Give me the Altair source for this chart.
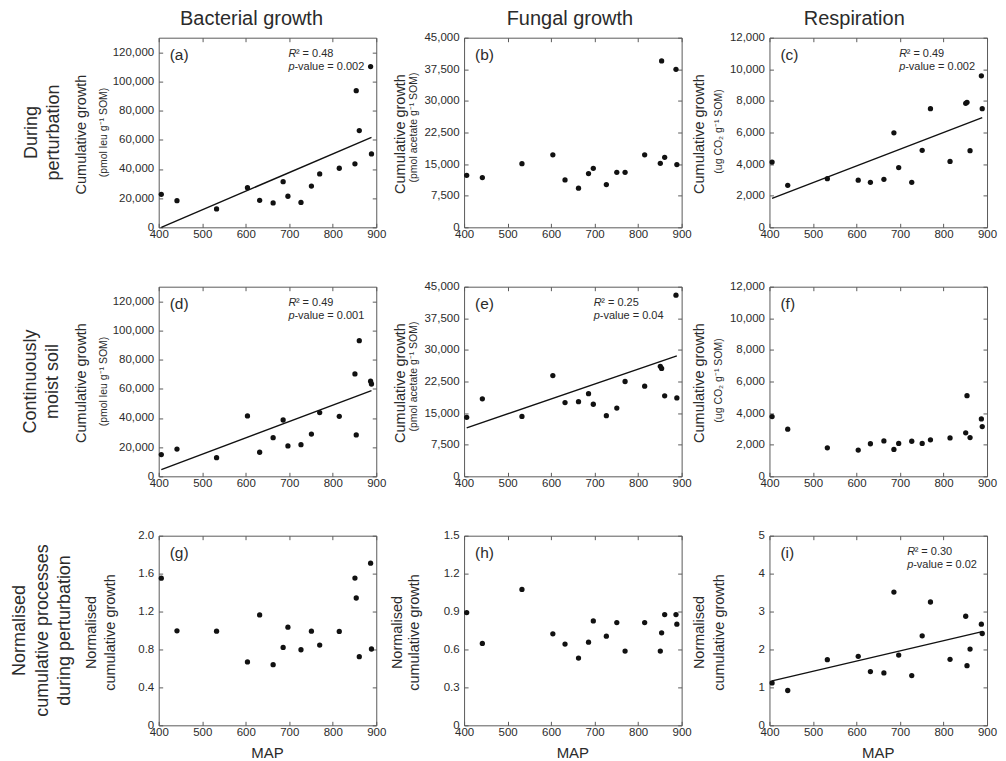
import altair as alt
import pandas as pd

# ---------------- data ----------------
MAP = [406, 442, 533, 604, 632, 663, 686, 697, 727, 751, 770, 815, 851, 854, 861, 887, 889]

bact_pert = [22600, 18300, 12600, 27200, 18500, 16700, 31300, 21300, 17100, 28300, 36600, 40500, 43500, 93700, 66300, 110200, 50300]
fung_pert = [12350, 11800, 15100, 17200, 11250, 9300, 12750, 14000, 10150, 13060, 13060, 17200, 15200, 39500, 16600, 37500, 14900]
resp_pert = [4130, 2660, 3080, 2980, 2850, 3040, 5980, 3780, 2850, 4870, 7510, 4170, 7850, 7910, 4850, 9590, 7510]
bact_moist = [14900, 18700, 12800, 41400, 16500, 26500, 38600, 20800, 21700, 29000, 43700, 41100, 70200, 28400, 93000, 65200, 63300]
fung_moist = [14000, 18400, 14200, 23900, 17500, 17700, 19600, 17100, 14400, 16200, 22500, 21400, 26100, 25600, 19100, 43000, 18600]
resp_moist = [3780, 2980, 1800, 1660, 2060, 2240, 1700, 2080, 2220, 2080, 2310, 2430, 2750, 5100, 2450, 3630, 3150]
bact_norm = [1.552, 0.997, 0.993, 0.668, 1.164, 0.640, 0.822, 1.035, 0.797, 0.993, 0.846, 0.990, 1.553, 1.343, 0.724, 1.710, 0.805]
fung_norm = [0.892, 0.648, 1.075, 0.724, 0.643, 0.532, 0.658, 0.826, 0.705, 0.813, 0.587, 0.813, 0.587, 0.732, 0.876, 0.876, 0.800]
resp_norm = [1.119, 0.918, 1.731, 1.818, 1.416, 1.381, 3.514, 1.853, 1.311, 2.360, 3.252, 1.740, 2.876, 1.573, 2.010, 2.666, 2.421]

# fitted regression lines (end points)
fit_map = [406, 889]
fit_a = [0, 61700]
fit_c = [1830, 6940]
fit_d = [4600, 58800]
fit_e = [11500, 28600]
fit_i = [1.17, 2.47]

# axes
x_ticks = [400, 500, 600, 700, 800, 900]
bact_ticks = [0, 20000, 40000, 60000, 80000, 100000, 120000]
fung_ticks = [0, 7500, 15000, 22500, 30000, 37500, 45000]
resp_ticks = [0, 2000, 4000, 6000, 8000, 10000, 12000]
bnorm_ticks = [0, 0.4, 0.8, 1.2, 1.6, 2.0]
fnorm_ticks = [0, 0.3, 0.6, 0.9, 1.2, 1.5]
rnorm_ticks = [0, 1, 2, 3, 4, 5]

col_titles = ["Bacterial growth", "Fungal growth", "Respiration"]
row_titles = ["During\nperturbation", "Continuously\nmoist soil",
              "Normalised\ncumulative processes\nduring perturbation"]
y_title = "Cumulative growth"
unit_bact = "(pmol leu g\u207b\u00b9 SOM)"
unit_fung = "(pmol acetate g\u207b\u00b9 SOM)"
unit_resp = "(ug CO\u2082 g\u207b\u00b9 SOM)"
norm_title = "Normalised\ncumulative growth"

# ---------------- style ----------------
FONT = "Liberation Sans"
TXT = "#2b2b2b"
AX = "#5a5a5a"
W, H = 218, 190
INWARD = alt.ExprRef(expr="-4")

FMT_INT = "format(datum.value, ',')"
FMT_DEC = "datum.value == 0 ? '0' : format(datum.value, '.1f')"
FMT_D = "format(datum.value, 'd')"


def txt(s, x, y, size, **kw):
    return alt.Chart(pd.DataFrame({"t": [s]})).mark_text(
        font=FONT, fontSize=size, color=TXT, **kw
    ).encode(text="t:N", x=alt.value(x), y=alt.value(y))


def panel(vals, ymax, yticks, fmt, letter, fit=None, stats=None, stats_x=130,
          ytitles=None, col_title=None, row_title=None, show_map=False):
    df = pd.DataFrame({"MAP": MAP, "v": vals})
    xs = alt.Scale(domain=[400, 900], nice=False, zero=False)
    ys = alt.Scale(domain=[0, ymax], nice=False, zero=False)
    common = dict(title=None, grid=False, domain=False, tickSize=INWARD,
                  tickColor=AX, tickWidth=1)
    bottom = alt.Axis(orient="bottom", values=x_ticks, labelExpr=FMT_D,
                      labelPadding=5, labelFont=FONT, labelFontSize=11.5,
                      labelColor=TXT, labelFlush=False, labelOverlap=False, **common)
    left = alt.Axis(orient="left", values=yticks, labelExpr=fmt,
                    labelPadding=9, labelFont=FONT, labelFontSize=11.5,
                    labelColor=TXT, labelFlush=False, labelOverlap=False, **common)
    top = alt.Axis(orient="top", values=x_ticks, labels=False, **common)
    right = alt.Axis(orient="right", values=yticks, labels=False, **common)

    mirror = alt.Chart(df).mark_point(opacity=0).encode(
        x=alt.X("MAP:Q", scale=xs, axis=top),
        y=alt.Y("v:Q", scale=ys, axis=right),
    )
    pts = alt.Chart(df).mark_circle(size=28, color="#111111", opacity=1).encode(
        x=alt.X("MAP:Q", scale=xs, axis=bottom),
        y=alt.Y("v:Q", scale=ys, axis=left),
    )
    layers = [mirror, pts]
    if fit is not None:
        fdf = pd.DataFrame({"MAP": fit_map, "v": fit})
        layers.append(
            alt.Chart(fdf).mark_line(color="#111111", strokeWidth=1.4).encode(
                x=alt.X("MAP:Q", scale=xs, axis=None),
                y=alt.Y("v:Q", scale=ys, axis=None),
            )
        )
    layers.append(txt(letter, 11, 17, 15.5, align="left", baseline="middle"))
    if stats is not None:
        r2, pv = stats
        layers += [
            txt("R", stats_x, 16, 11, align="left", baseline="middle", fontStyle="italic"),
            txt("\u00b2 = " + r2, stats_x + 7.5, 16, 11, align="left", baseline="middle"),
            txt("p", stats_x, 29.5, 11, align="left", baseline="middle", fontStyle="italic"),
            txt("-value = " + pv, stats_x + 6, 29.5, 11, align="left", baseline="middle"),
        ]
    if ytitles is not None:
        # x is the position of the first line; further lines go to the right
        for (s, x, y, size, lh) in ytitles:
            layers.append(txt(s, x, y, size, angle=270, align="center",
                              baseline="middle", lineBreak="\n", lineHeight=lh))
    if col_title is not None:
        s, cx = col_title
        layers.append(txt(s, cx, -12.5, 20, align="center", baseline="alphabetic"))
    if row_title is not None:
        s, rx = row_title
        layers.append(txt(s, rx, 95, 18, angle=270, align="center",
                          baseline="middle", lineBreak="\n", lineHeight=22.5))
    if show_map:
        layers.append(txt("MAP", W / 2, 223, 15, align="center", baseline="alphabetic"))
    return alt.layer(*layers).resolve_axis(x="independent", y="independent").properties(
        width=W, height=H)


pa = panel(bact_pert, 130000, bact_ticks, FMT_INT, "(a)", fit=fit_a, stats=("0.48", "0.002"),
           ytitles=[(y_title, -77, 97, 14.5, 18), (unit_bact, -55, 95, 10.5, 12)],
           col_title=(col_titles[0], 93), row_title=(row_titles[0], -127))
pb = panel(fung_pert, 45000, fung_ticks, FMT_INT, "(b)",
           ytitles=[(y_title, -63, 96.5, 14.5, 18), (unit_fung, -50, 90, 10.5, 12)],
           col_title=(col_titles[1], 106))
pc = panel(resp_pert, 12000, resp_ticks, FMT_INT, "(c)", fit=fit_c, stats=("0.49", "0.002"),
           ytitles=[(y_title, -70, 96.5, 14.5, 18), (unit_resp, -51, 94, 10.5, 12)],
           col_title=(col_titles[2], 85))

pd_ = panel(bact_moist, 130000, bact_ticks, FMT_INT, "(d)", fit=fit_d, stats=("0.49", "0.001"),
            ytitles=[(y_title, -77, 96.5, 14.5, 18), (unit_bact, -55, 95, 10.5, 12)],
            row_title=(row_titles[1], -128))
pe = panel(fung_moist, 45000, fung_ticks, FMT_INT, "(e)", fit=fit_e, stats=("0.25", "0.04"),
           ytitles=[(y_title, -63, 96.5, 14.5, 18), (unit_fung, -50, 90, 10.5, 12)])
pf = panel(resp_moist, 12000, resp_ticks, FMT_INT, "(f)",
           ytitles=[(y_title, -70, 96.5, 14.5, 18), (unit_resp, -51, 94, 10.5, 12)])

pg = panel(bact_norm, 2.0, bnorm_ticks, FMT_DEC, "(g)",
           ytitles=[(norm_title, -66.5, 97, 14.5, 18.5)], row_title=(row_titles[2], -138.5),
           show_map=True)
ph = panel(fung_norm, 1.5, fnorm_ticks, FMT_DEC, "(h)",
           ytitles=[(norm_title, -66, 97, 14.5, 16.5)], show_map=True)
pi = panel(resp_norm, 5, rnorm_ticks, FMT_D, "(i)", fit=fit_i, stats=("0.30", "0.02"), stats_x=138,
           ytitles=[(norm_title, -70, 97, 14.5, 20)], show_map=True)

chart = alt.concat(
    pa, pb, pc, pd_, pe, pf, pg, ph, pi,
    columns=3, spacing={"row": 59.5, "column": 88}, bounds="flush",
).properties(
    padding={"left": 3, "top": 0, "right": 0, "bottom": 0},
    background="white",
).configure_view(stroke=AX, strokeWidth=1)

chart.save("out.html", embed_options={"renderer": "svg", "actions": False})
